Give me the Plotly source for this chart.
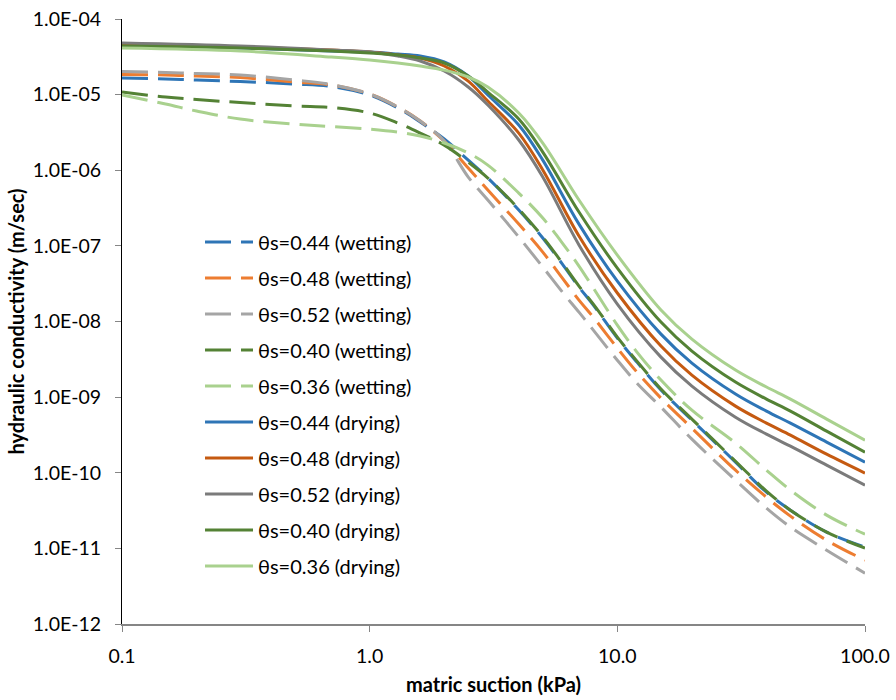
import plotly.graph_objects as go

# matric suction (kPa)
x_dry = [0.1, 0.3, 0.7, 1.0, 1.3, 1.6, 2.0, 2.5, 3.0, 4.0, 5.0, 7.0, 10.0, 15.0, 20.0, 30.0, 40.0, 50.0, 70.0, 100.0]
x_wet = [0.1, 0.15, 0.2, 0.3, 0.5, 0.7, 1.0, 1.3, 1.6, 2.0, 2.5, 3.0, 4.0, 5.0, 6.0, 7.0, 8.0, 10.0, 12.0, 15.0, 20.0, 30.0, 40.0, 50.0, 70.0, 100.0]

# hydraulic conductivity (m/sec), wetting
k_wet_044 = [1.66e-5, 1.61e-5, 1.56e-5, 1.49e-5, 1.38e-5, 1.28e-5, 9.89e-6, 6.65e-6, 4.34e-6, 2.59e-6, 1.36e-6, 7.89e-7, 2.98e-7, 1.27e-7, 5.74e-8, 2.85e-8, 1.65e-8, 6.03e-9, 2.90e-9, 1.24e-9, 4.97e-10, 1.38e-10, 5.53e-11, 3.20e-11, 1.64e-11, 1.04e-11]
k_wet_048 = [1.85e-5, 1.82e-5, 1.76e-5, 1.68e-5, 1.47e-5, 1.34e-5, 1.02e-5, 6.86e-6, 4.48e-6, 2.43e-6, 1.07e-6, 5.47e-7, 1.94e-7, 8.28e-8, 3.75e-8, 1.92e-8, 1.14e-8, 4.45e-9, 2.14e-9, 9.70e-10, 3.89e-10, 1.08e-10, 4.75e-11, 2.67e-11, 1.28e-11, 6.98e-12]
k_wet_052 = [2.02e-5, 1.96e-5, 1.90e-5, 1.82e-5, 1.56e-5, 1.36e-5, 1.02e-5, 6.86e-6, 4.48e-6, 2.43e-6, 8.13e-7, 4.04e-7, 1.31e-7, 5.25e-8, 2.45e-8, 1.33e-8, 7.69e-9, 3.08e-9, 1.53e-9, 7.38e-10, 2.78e-10, 7.98e-11, 3.40e-11, 1.91e-11, 9.46e-12, 4.70e-12]
k_wet_040 = [1.08e-5, 9.29e-6, 8.61e-6, 7.87e-6, 7.06e-6, 6.75e-6, 5.71e-6, 4.21e-6, 3.10e-6, 2.15e-6, 1.28e-6, 7.89e-7, 3.07e-7, 1.31e-7, 5.92e-8, 2.94e-8, 1.70e-8, 6.22e-9, 2.99e-9, 1.28e-9, 5.12e-10, 1.42e-10, 5.71e-11, 3.20e-11, 1.64e-11, 1.01e-11]
k_wet_036 = [9.89e-6, 7.51e-6, 6.07e-6, 4.75e-6, 4.08e-6, 3.78e-6, 3.51e-6, 3.20e-6, 2.83e-6, 2.29e-6, 1.69e-6, 1.17e-6, 4.99e-7, 2.33e-7, 1.09e-7, 5.41e-8, 2.77e-8, 8.95e-9, 3.94e-9, 1.68e-9, 6.73e-10, 2.47e-10, 1.08e-10, 5.89e-11, 2.75e-11, 1.54e-11]

# hydraulic conductivity (m/sec), drying
k_dry_044 = [4.53e-5, 4.13e-5, 3.77e-5, 3.66e-5, 3.44e-5, 3.24e-5, 2.70e-5, 1.76e-5, 9.89e-6, 3.96e-6, 1.36e-6, 1.94e-7, 3.42e-8, 6.81e-9, 2.82e-9, 1.10e-9, 6.53e-10, 4.53e-10, 2.54e-10, 1.38e-10]
k_dry_048 = [4.67e-5, 4.26e-5, 3.89e-5, 3.66e-5, 3.34e-5, 3.05e-5, 2.39e-5, 1.51e-5, 8.22e-6, 3.10e-6, 1.01e-6, 1.35e-7, 2.38e-8, 4.73e-9, 1.95e-9, 7.60e-10, 4.53e-10, 3.14e-10, 1.76e-10, 9.89e-11]
k_dry_052 = [4.82e-5, 4.40e-5, 3.89e-5, 3.66e-5, 3.24e-5, 2.78e-5, 2.05e-5, 1.26e-5, 7.28e-6, 2.51e-6, 8.13e-7, 1.03e-7, 1.70e-8, 3.38e-9, 1.40e-9, 5.43e-10, 3.24e-10, 2.25e-10, 1.26e-10, 6.86e-11]
k_dry_040 = [4.40e-5, 4.13e-5, 3.77e-5, 3.55e-5, 3.34e-5, 3.05e-5, 2.62e-5, 1.76e-5, 1.08e-5, 4.75e-6, 1.74e-6, 2.80e-7, 5.08e-8, 9.82e-9, 4.06e-9, 1.58e-9, 9.42e-10, 6.53e-10, 3.55e-10, 1.87e-10]
k_dry_036 = [4.13e-5, 3.77e-5, 3.14e-5, 2.87e-5, 2.62e-5, 2.39e-5, 2.11e-5, 1.71e-5, 1.26e-5, 5.71e-6, 2.29e-6, 4.04e-7, 7.55e-8, 1.42e-8, 5.85e-9, 2.28e-9, 1.36e-9, 9.42e-10, 5.12e-10, 2.70e-10]

series_names = ["θs=0.44 (wetting)", "θs=0.48 (wetting)", "θs=0.52 (wetting)", "θs=0.40 (wetting)", "θs=0.36 (wetting)",
                "θs=0.44 (drying)", "θs=0.48 (drying)", "θs=0.52 (drying)", "θs=0.40 (drying)", "θs=0.36 (drying)"]

x_tick_vals = [0.1, 1, 10, 100]
x_tick_text = ["0.1", "1.0", "10.0", "100.0"]
y_tick_vals = [1e-12, 1e-11, 1e-10, 1e-9, 1e-8, 1e-7, 1e-6, 1e-5, 1e-4]
y_tick_text = ["1.0E-12", "1.0E-11", "1.0E-10", "1.0E-09", "1.0E-08", "1.0E-07", "1.0E-06", "1.0E-05", "1.0E-04"]

wet_colors = ["#2E75B6", "#ED7D31", "#A5A5A5", "#548235", "#A9D18E"]
dry_colors = ["#2E75B6", "#C55A11", "#7B7B7B", "#548235", "#A9D18E"]

FONT = "Lato, sans-serif"

fig = go.Figure()
wet_series = [k_wet_044, k_wet_048, k_wet_052, k_wet_040, k_wet_036]
dry_series = [k_dry_044, k_dry_048, k_dry_052, k_dry_040, k_dry_036]

for i, ys in enumerate(wet_series):
    fig.add_trace(go.Scatter(x=x_wet, y=ys, mode="lines", name=series_names[i], legendgroup=series_names[i],
                             line=dict(color=wet_colors[i], width=3, dash="26px,10px", shape="spline", smoothing=1.0)))
for i, ys in enumerate(dry_series):
    fig.add_trace(go.Scatter(x=x_dry, y=ys, mode="lines", name=series_names[5 + i], legendgroup=series_names[5 + i],
                             line=dict(color=dry_colors[i], width=3, shape="spline", smoothing=1.0)))

fig.update_layout(
    width=896, height=700,
    margin=dict(l=122, r=31, t=19, b=76),
    plot_bgcolor="white", paper_bgcolor="white",
    font=dict(family=FONT, size=19.5, color="#000000"),
    showlegend=True,
    legend=dict(x=0.105, y=0.6635, xanchor="left", yanchor="top", bgcolor="rgba(0,0,0,0)",
                font=dict(family=FONT, size=20, color="#000000"), tracegroupgap=7, itemwidth=48),
)
fig.update_xaxes(type="log", range=[-1, 2], tickvals=x_tick_vals, ticktext=x_tick_text, automargin=False,
                 showgrid=False, zeroline=False, showline=True, linecolor="#868686", linewidth=1.5,
                 ticks="outside", ticklen=6, tickcolor="#868686", ticklabelstandoff=8,
                 title=dict(text="matric suction (kPa)", font=dict(family=FONT, size=20, weight="bold"), standoff=12))
fig.update_yaxes(type="log", range=[-12, -4], tickvals=y_tick_vals, ticktext=y_tick_text, automargin=False,
                 showgrid=False, zeroline=False, showline=True, linecolor="#000000", linewidth=1,
                 ticks="outside", ticklen=6, tickcolor="#868686", ticklabelstandoff=10,
                 title=dict(text="hydraulic conductivity (m/sec)", font=dict(family=FONT, size=20, weight="bold"), standoff=2))

fig.write_html("out.html")
